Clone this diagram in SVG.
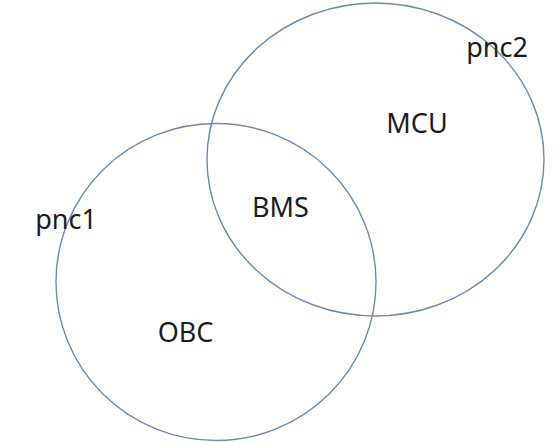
<svg xmlns="http://www.w3.org/2000/svg" width="554" height="442" viewBox="0 0 554 442">
<style>
.ring{fill:none;stroke:#6a8bb0;stroke-width:1.4}
.lbl{font-family:"Noto Sans","Open Sans",sans-serif;font-size:27px;fill:#1c1c1c;text-anchor:middle}
</style>
<rect width="554" height="442" fill="#ffffff"/>
<g id="pnc1">
<ellipse class="ring" cx="216" cy="282" rx="160" ry="158.5"/>
<text class="lbl" x="66" y="229">pnc1</text>
</g>
<g id="pnc2">
<ellipse class="ring" cx="375.5" cy="159.5" rx="168.5" ry="156.5"/>
<text class="lbl" x="497" y="57">pnc2</text>
</g>
<g id="MCU"><text class="lbl" x="417" y="133">MCU</text></g>
<g id="BMS"><text class="lbl" x="280.5" y="217">BMS</text></g>
<g id="OBC"><text class="lbl" x="185.5" y="342">OBC</text></g>
<g id="connectors"></g>
</svg>
